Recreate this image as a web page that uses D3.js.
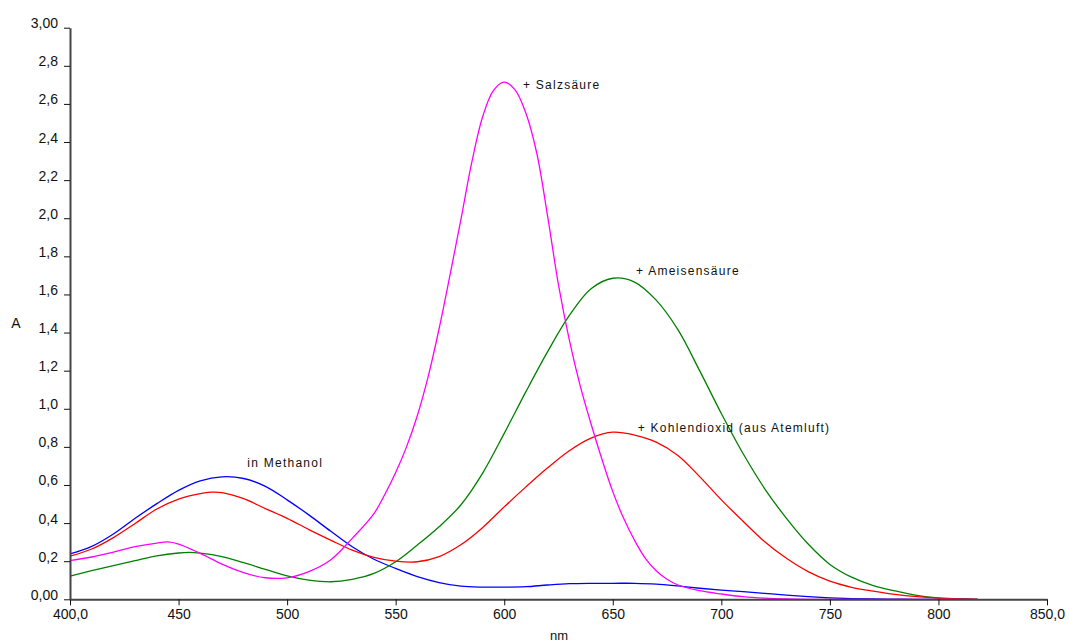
<!DOCTYPE html>
<html>
<head>
<meta charset="utf-8">
<script src="https://cdn.jsdelivr.net/npm/d3@7/dist/d3.min.js"></script>
<style>
  html, body { margin: 0; padding: 0; background: #fff; }
  svg { display: block; }
  .tick text { font-family: "Liberation Sans", Arial, sans-serif; font-size: 14px; fill: #111; }
  .lbl { font-family: "Liberation Sans", Arial, sans-serif; font-size: 12px; letter-spacing: 1.25px; fill: #111; }
</style>
</head>
<body>
<svg id="chart" width="1069" height="643"></svg>
<script>
// ---- data ----
const methanolNm = [400,410,420,430,440,450,460,470,480,490,500,510,520,530,540,550,560,570,580,590,600,610,620,630,640,650,660,670,680,690,700,710,720,730,740,750,760,770,780,790,800,810,818];
const methanolA  = [0.238,0.278,0.343,0.425,0.502,0.572,0.622,0.643,0.634,0.593,0.522,0.443,0.358,0.276,0.21,0.162,0.119,0.088,0.069,0.064,0.064,0.066,0.075,0.082,0.084,0.084,0.084,0.08,0.07,0.058,0.048,0.04,0.031,0.022,0.014,0.008,0.004,0.002,0.001,0,0,0,0];

const co2Nm = [400,410,420,430,440,450,460,465,470,480,490,500,510,520,530,540,550,560,570,580,590,600,610,620,630,640,650,660,670,680,690,700,710,720,730,740,750,760,770,780,790,800,810,818];
const co2A  = [0.226,0.264,0.324,0.398,0.474,0.526,0.555,0.562,0.56,0.528,0.476,0.425,0.366,0.311,0.258,0.22,0.2,0.197,0.224,0.286,0.376,0.485,0.59,0.69,0.78,0.846,0.877,0.862,0.825,0.755,0.644,0.522,0.41,0.302,0.215,0.145,0.095,0.063,0.043,0.026,0.014,0.006,0.002,0];

const formicNm = [400,410,420,430,440,450,455,460,470,480,490,500,510,520,530,540,550,560,570,580,590,600,610,620,630,640,650,660,670,680,690,700,710,720,730,740,750,760,770,780,790,800,810,818];
const formicA  = [0.122,0.15,0.177,0.203,0.228,0.243,0.246,0.242,0.224,0.192,0.157,0.123,0.101,0.092,0.105,0.136,0.197,0.285,0.381,0.495,0.661,0.871,1.09,1.30,1.49,1.63,1.685,1.665,1.57,1.415,1.2,0.975,0.765,0.58,0.425,0.29,0.183,0.116,0.072,0.044,0.021,0.008,0.003,0];

const hclNm = [400,410,420,430,440,445,450,460,470,480,490,500,510,520,530,540,545,550,555,560,565,570,575,580,585,590,595,600,605,610,615,620,625,630,635,640,645,650,655,660,665,670,675,680,690,700,710,720,730,740,780,818];
const hclA  = [0.203,0.222,0.248,0.276,0.295,0.301,0.29,0.241,0.185,0.14,0.113,0.113,0.145,0.206,0.32,0.45,0.55,0.665,0.8,0.965,1.17,1.42,1.70,1.99,2.29,2.53,2.67,2.714,2.674,2.551,2.341,2.01,1.65,1.36,1.12,0.92,0.735,0.565,0.425,0.31,0.215,0.15,0.105,0.075,0.045,0.028,0.014,0.006,0.002,0,0,0];

const xTickValues = [400,450,500,550,600,650,700,750,800,850];
const xTickLabels = ["400,0","450","500","550","600","650","700","750","800","850,0"];
const yTickValues = [0,0.2,0.4,0.6,0.8,1.0,1.2,1.4,1.6,1.8,2.0,2.2,2.4,2.6,2.8,3.0];
const yTickLabels = ["0,00","0,2","0,4","0,6","0,8","1,0","1,2","1,4","1,6","1,8","2,0","2,2","2,4","2,6","2,8","3,00"];

const seriesNames  = ["in Methanol","+ Kohlendioxid (aus Atemluft)","+ Ameisensäure","+ Salzsäure"];
const seriesColors = ["#0000ff","#ff0000","#008000","#ff00ff"];

// ---- chart ----
const svg = d3.select("#chart");
const x = d3.scaleLinear().domain([400, 850]).range([70, 1047]);
const y = d3.scaleLinear().domain([0, 3]).range([599.3, 27.7]);

const series = [
  {nm: methanolNm, a: methanolA},
  {nm: co2Nm, a: co2A},
  {nm: formicNm, a: formicA},
  {nm: hclNm, a: hclA}
];

const line = d3.line()
  .x(d => x(d[0]))
  .y(d => y(d[1]))
  .curve(d3.curveCatmullRom.alpha(0.5));

// draw order: blue, green, red, magenta
[0, 2, 1, 3].forEach(i => {
  const s = series[i];
  const pts = s.nm.map((n, k) => [n, s.a[k]]);
  svg.append("path")
    .datum(pts)
    .attr("d", line)
    .attr("fill", "none")
    .attr("stroke", seriesColors[i])
    .attr("stroke-width", 1.3);
});

// axes
const xAxis = d3.axisBottom(x)
  .tickValues(xTickValues)
  .tickFormat((d, i) => xTickLabels[i])
  .tickSize(6).tickSizeOuter(0).tickPadding(4);
const gx = svg.append("g").attr("transform", "translate(0,599.3)").call(xAxis);
gx.select(".domain").attr("stroke", "#444").attr("stroke-width", 2);
gx.selectAll(".tick line").attr("stroke", "#111");
gx.selectAll(".tick text").attr("dy", "0.71em");

const yAxis = d3.axisLeft(y)
  .tickValues(yTickValues)
  .tickFormat((d, i) => yTickLabels[i])
  .tickSize(6).tickSizeOuter(0).tickPadding(6);
const gy = svg.append("g").attr("transform", "translate(70,0)").call(yAxis);
gy.select(".domain").attr("stroke", "#444").attr("stroke-width", 2);
gy.selectAll(".tick line").attr("stroke", "#111");
gy.selectAll(".tick text").attr("dy", "0");

// axis titles
svg.append("text").attr("x", 16).attr("y", 327.5).attr("text-anchor", "middle")
  .style("font-family", "Liberation Sans, Arial, sans-serif").style("font-size", "14px").attr("fill", "#111").text("A");
svg.append("text").attr("x", 559).attr("y", 640).attr("text-anchor", "middle")
  .style("font-family", "Liberation Sans, Arial, sans-serif").style("font-size", "13px").attr("fill", "#111").text("nm");

// series labels
const labelPos = [[247.3, 467], [637.7, 432], [636, 275], [523, 89]];
seriesNames.forEach((name, i) => {
  svg.append("text").attr("class", "lbl")
    .attr("x", labelPos[i][0]).attr("y", labelPos[i][1])
    .text(name);
});
</script>
</body>
</html>
